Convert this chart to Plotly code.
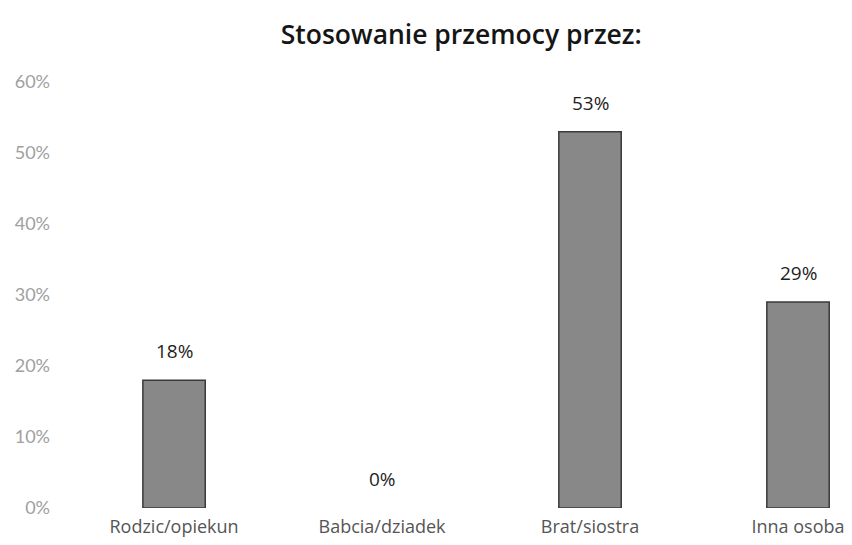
import plotly.graph_objects as go

categories = ["Rodzic/opiekun", "Babcia/dziadek", "Brat/siostra", "Inna osoba"]
values = [0.18, 0.0, 0.53, 0.29]
labels = ["18%", "0%", "53%", "29%"]
y_ticks = [0, 0.1, 0.2, 0.3, 0.4, 0.5, 0.6]
y_ticktext = ["0%", "10%", "20%", "30%", "40%", "50%", "60%"]

positions = list(range(len(categories)))

fig = go.Figure()
fig.add_trace(go.Bar(
    x=positions, y=values,
    marker=dict(color="#888888",
                line=dict(color="#3a3a3a", width=[1.5 if v > 0 else 0 for v in values])),
    width=0.3, cliponaxis=False,
))

# value labels above the bars
for xp, v, t in zip(positions, values, labels):
    fig.add_annotation(x=xp, y=v, text=t, showarrow=False, yanchor="bottom", yshift=14,
                       font=dict(size=19, color="#1e1e1e", family="Open Sans"))

fig.update_layout(
    width=852, height=545,
    paper_bgcolor="white", plot_bgcolor="white",
    margin=dict(l=50, r=0, t=74, b=45),
    title=dict(text="Stosowanie przemocy przez:", x=0.532, xanchor="center", y=1 - 27 / 545, yanchor="middle",
               font=dict(size=26.5, color="#151515", family="Open Sans", weight=600)),
    showlegend=False,
    xaxis=dict(range=[-0.558, 3.298], tickvals=positions, ticktext=categories,
               showgrid=False, zeroline=False, showline=False, ticks="", ticklabelstandoff=6,
               tickfont=dict(size=18, color="#555555", family="Open Sans")),
    yaxis=dict(range=[0, 0.6], tickvals=y_ticks, ticktext=y_ticktext,
               showgrid=False, zeroline=False, showline=False, ticks="", ticklabelstandoff=7,
               tickfont=dict(size=18, color="#a0a0a0", family="Lato")),
)

fig.write_html("out.html")
